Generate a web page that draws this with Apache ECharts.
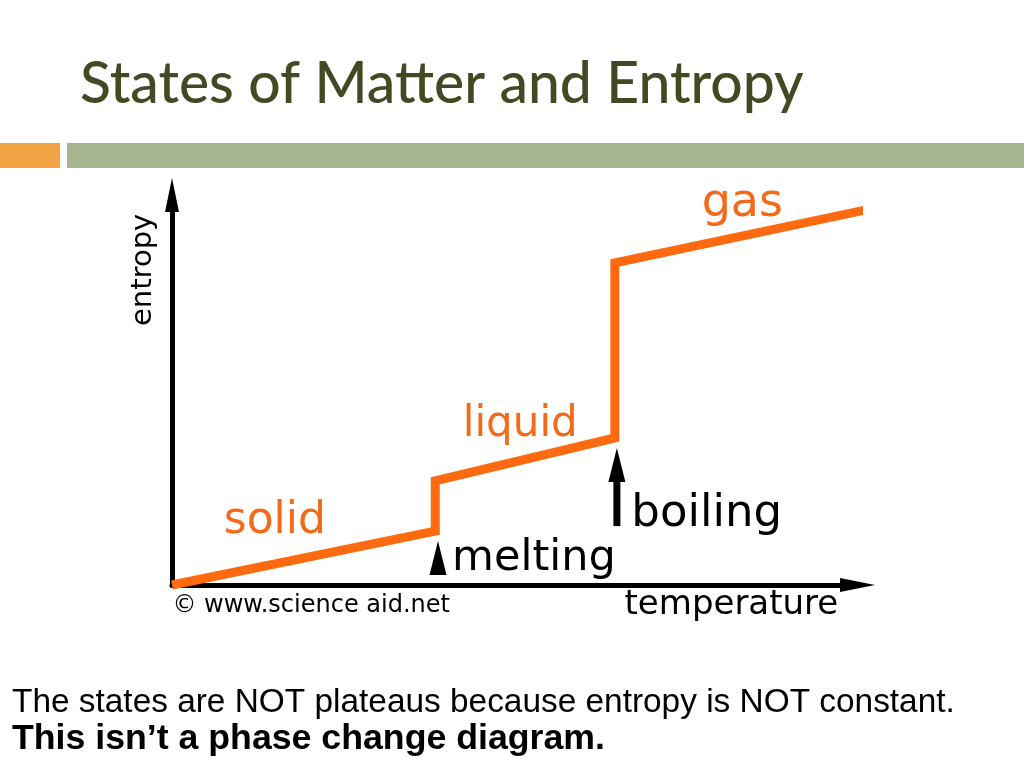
<!DOCTYPE html>
<html>
<head>
<meta charset="utf-8">
<script src="https://cdn.jsdelivr.net/npm/echarts@6/dist/echarts.min.js"></script>
<style>
html,body{margin:0;padding:0;background:#fff;}
#chart{width:1024px;height:768px;}
</style>
</head>
<body>
<div id="chart"></div>
<script>
// Entropy vs temperature curve (arbitrary units 0-100)
var curveTemperature = [0, 38.4, 38.4, 64.6, 64.6, 101.8];
var curveEntropy = [0, 13.8, 26.7, 37.7, 82.6, 96.4];

// State labels: [temperature, entropy, text, size]
var stateLabels = [
  [15.0, 16.2, 'solid', 44],
  [50.8, 40.9, 'liquid', 42],
  [83.2, 97.7, 'gas', 46]
];
// Transition labels
var transitionLabels = [
  [52.8, 6.7, 'melting', 43],
  [78.0, 18.1, 'boiling', 45]
];
// Transition markers (arrow heads) and boiling arrow shaft
var arrowHeads = [[38.8, 6.9], [64.9, 30.8]];
var boilingShaft = [[64.9, 15.1], [64.9, 26.4]];

var titleText = 'States of Matter and Entropy';
var note1 = 'The states are NOT plateaus because entropy is NOT constant.';
var note2 = 'This isn\u2019t a phase change diagram.';

var chart = echarts.init(document.getElementById('chart'), null, {renderer: 'canvas'});

var curveData = curveTemperature.map(function (t, i) { return [t, curveEntropy[i]]; });

var option = {
  backgroundColor: '#ffffff',
  animation: false,
  grid: {left: 172, right: 166.5, top: 195, bottom: 183},
  xAxis: {
    type: 'value', min: 0, max: 100,
    splitLine: {show: false}, axisTick: {show: false}, axisLabel: {show: false},
    axisLine: {show: true, symbol: ['none', 'triangle'], symbolSize: [14, 35],
      lineStyle: {color: '#000', width: 5}}
  },
  yAxis: {
    type: 'value', min: 0, max: 100,
    splitLine: {show: false}, axisTick: {show: false}, axisLabel: {show: false},
    axisLine: {show: true, symbol: ['none', 'triangle'], symbolSize: [14, 34],
      lineStyle: {color: '#000', width: 5}}
  },
  graphic: [
    {type: 'rect', shape: {x: 0, y: 143, width: 60, height: 25}, style: {fill: '#f2a444'}},
    {type: 'rect', shape: {x: 67, y: 143, width: 957, height: 25}, style: {fill: '#a4b590'}},
    {type: 'text', style: {text: titleText, x: 80, y: 85, fill: '#414a22',
      font: '500 57px Lato', textAlign: 'left', verticalAlign: 'middle'}},
    {type: 'text', style: {text: note1, x: 12, y: 702.5, fill: '#000',
      font: '33.4px "Liberation Sans"', textAlign: 'left', verticalAlign: 'middle'}},
    {type: 'text', style: {text: note2, x: 12, y: 739, fill: '#000',
      font: 'bold 35.7px "Liberation Sans"', textAlign: 'left', verticalAlign: 'middle'}}
  ],
  series: [
    {
      type: 'line', data: curveData, clip: false, symbol: 'none', z: 5,
      lineStyle: {color: '#ff6a10', width: 9, join: 'miter', cap: 'butt'}
    },
    {
      type: 'line', data: boilingShaft, clip: false, symbol: 'none', z: 4,
      lineStyle: {color: '#000', width: 7}
    },
    {
      type: 'scatter', data: arrowHeads, clip: false, symbol: 'triangle',
      symbolSize: [17, 34], itemStyle: {color: '#000', opacity: 1}, z: 4
    },
    {
      type: 'scatter', clip: false, symbolSize: 0, z: 6, itemStyle: {opacity: 1},
      data: stateLabels.map(function (d) { return {value: [d[0], d[1]], name: d[2],
        label: {fontSize: d[3]}}; }),
      label: {show: true, position: 'inside', formatter: function (p) { return p.name; },
        color: '#f36a1a', fontFamily: 'DejaVu Sans', align: 'center', verticalAlign: 'middle'}
    },
    {
      type: 'scatter', clip: false, symbolSize: 0, z: 6, itemStyle: {opacity: 1},
      data: transitionLabels.map(function (d) { return {value: [d[0], d[1]], name: d[2],
        label: {fontSize: d[3]}}; }).concat([
        {value: [81.6, -5.1], name: 'temperature', label: {fontSize: 34}},
        {value: [20.3, -5.4], name: '\u00a9 www.science aid.net', label: {fontSize: 24}},
        {value: [-4.1, 80.8], name: 'entropy', label: {fontSize: 29, rotate: 90}}
      ]),
      label: {show: true, position: 'inside', formatter: function (p) { return p.name; },
        color: '#000', fontFamily: 'DejaVu Sans', align: 'center', verticalAlign: 'middle'}
    }
  ]
};
chart.setOption(option);
</script>
</body>
</html>
